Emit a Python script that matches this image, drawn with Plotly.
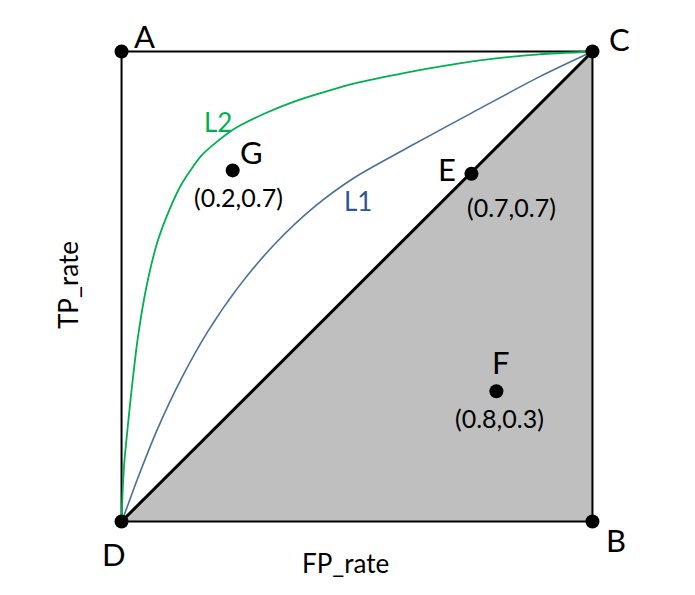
import plotly.graph_objects as go

# Curve data (FP_rate, TP_rate)
l2_x = [0, 0.002, 0.006, 0.013, 0.021, 0.034, 0.053, 0.076, 0.102, 0.127, 0.170, 0.234, 0.304, 0.374, 0.495, 0.605, 0.745, 0.887, 1.0]
l2_y = [0, 0.057, 0.128, 0.200, 0.277, 0.387, 0.500, 0.594, 0.664, 0.717, 0.779, 0.832, 0.868, 0.896, 0.932, 0.955, 0.979, 0.994, 1.0]
l1_x = [0, 0.006, 0.034, 0.076, 0.127, 0.183, 0.246, 0.325, 0.410, 0.495, 0.605, 0.745, 0.887, 1.0]
l1_y = [0, 0.015, 0.091, 0.196, 0.304, 0.404, 0.496, 0.590, 0.670, 0.732, 0.794, 0.870, 0.946, 1.0]

# Named points
pt_names = ["A", "B", "C", "D", "E", "F", "G"]
pt_x = [0, 1, 1, 0, 0.743, 0.796, 0.236]
pt_y = [1, 0, 1, 0, 0.740, 0.277, 0.747]
coord_labels = {"E": "(0.7,0.7)", "F": "(0.8,0.3)", "G": "(0.2,0.7)"}

square_x = [0, 1, 1, 0, 0]
square_y = [0, 0, 1, 1, 0]
tri_x = [0, 1, 1, 0]
tri_y = [0, 0, 1, 0]

FONT = "Lato"
GREEN = "#00B050"
BLUE = "#4A7098"
XR = [-0.05, 1.05]
YR = [-0.05, 1.05]


def px(x):
    return (x - XR[0]) / (XR[1] - XR[0])


def py(y):
    return (y - YR[0]) / (YR[1] - YR[0])


fig = go.Figure()
fig.add_trace(go.Scatter(x=tri_x, y=tri_y, fill="toself", fillcolor="#BFBFBF",
                         mode="none", hoverinfo="skip"))
fig.add_trace(go.Scatter(x=square_x, y=square_y, mode="lines",
                         line=dict(color="black", width=2), hoverinfo="skip"))
fig.add_trace(go.Scatter(x=[0, 1], y=[0, 1], mode="lines",
                         line=dict(color="black", width=3), hoverinfo="skip"))
fig.add_trace(go.Scatter(x=l1_x, y=l1_y, mode="lines",
                         line=dict(color=BLUE, width=1.6, shape="spline", smoothing=0.8)))
fig.add_trace(go.Scatter(x=l2_x, y=l2_y, mode="lines",
                         line=dict(color=GREEN, width=1.8, shape="spline", smoothing=0.6)))
fig.add_trace(go.Scatter(x=pt_x, y=pt_y, mode="markers",
                         marker=dict(color="black", size=14), cliponaxis=False))

letter_pos = {"A": (0.049, 1.032), "B": (1.051, -0.040), "C": (1.057, 1.026),
              "D": (-0.015, -0.070), "E": (0.692, 0.749), "F": (0.805, 0.340),
              "G": (0.276, 0.787)}
coord_pos = {"E": (0.828, 0.670), "F": (0.803, 0.221), "G": (0.249, 0.690)}

ann = []


def add(x, y, text, size, color="black", angle=0):
    ann.append(dict(x=px(x), y=py(y), xref="paper", yref="paper", text=text,
                    xanchor="center", yanchor="middle",
                    showarrow=False, textangle=angle,
                    font=dict(family=FONT, size=size, color=color)))


for n in pt_names:
    x, y = letter_pos[n]
    add(x, y, n, 31)
for n, t in coord_labels.items():
    x, y = coord_pos[n]
    add(x, y, t, 25)
add(0.204, 0.851, "L2", 26, GREEN)
add(0.503, 0.681, "L1", 26, "#2F5597")
add(0.476, -0.089, "FP_rate", 26)
add(-0.115, 0.504, "TP_rate", 26, angle=-90)

fig.update_layout(
    width=695, height=595,
    margin=dict(l=98, r=79, t=28, b=50),
    paper_bgcolor="white", plot_bgcolor="white",
    showlegend=False,
    xaxis=dict(range=XR, visible=False, fixedrange=True),
    yaxis=dict(range=YR, visible=False, fixedrange=True),
    annotations=ann,
)
fig.write_html("out.html")
